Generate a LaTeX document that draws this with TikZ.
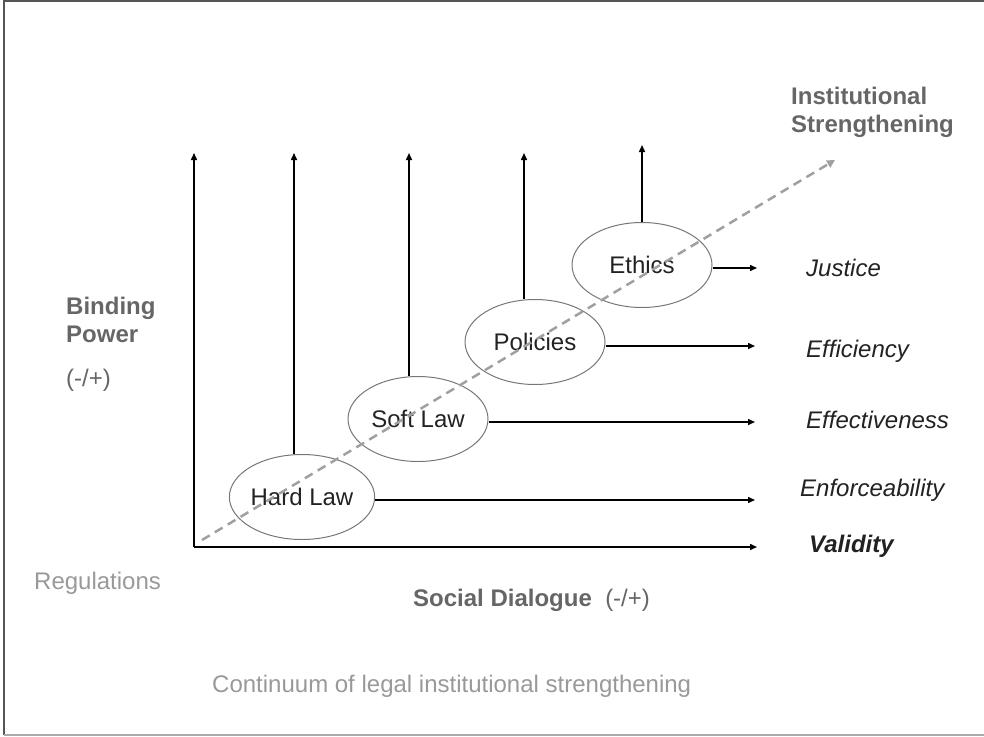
\documentclass[tikz,border=0pt]{standalone}
\usepackage{fontspec}
\setmainfont{Liberation Sans}
\usetikzlibrary{arrows.meta,shapes.geometric}
\definecolor{labgray}{HTML}{666666}
\definecolor{lightgray2}{HTML}{999999}
\definecolor{ellgray}{HTML}{777777}
\definecolor{dashgray}{HTML}{A0A0A0}
\definecolor{ink}{HTML}{222222}
\definecolor{framegray}{HTML}{555555}
\definecolor{framelight}{HTML}{AAAAAA}
\begin{document}
\begin{tikzpicture}[x=1pt,y=-1pt,
  every node/.style={inner sep=0pt, font=\fontsize{24}{29}\selectfont},
  arr/.style={draw=black, line width=1.5pt, -{Triangle[length=7pt,width=6pt]}},
  plainline/.style={draw=black, line width=1.5pt},
  oval/.style={ellipse, draw=ellgray, line width=1pt, minimum width=140pt, minimum height=85pt, text=ink},
  lab/.style={anchor=west, text=ink, font=\fontsize{24}{29}\selectfont\itshape},
  dashline/.style={draw=dashgray, line width=2.5pt, dash pattern=on 9pt off 6pt, -{Triangle[length=8pt,width=8pt]}},
  boldlab/.style={anchor=west, align=left, text=labgray, font=\fontsize{24}{28}\selectfont\bfseries},
  graylab/.style={anchor=west, text=labgray},
  lightlab/.style={anchor=west, text=lightgray2},
]
\useasboundingbox (0,0) rectangle (984,736);
% frame
\draw[line width=2pt, framegray] (984,1) -- (4,1) -- (4,735);
\draw[line width=2pt, framelight] (4,735) -- (984,735);

% axes
\coordinate (O) at (194,547);
\coordinate (xend) at (757,547);
\coordinate (ytop) at (194,153);
\draw[arr] (O) -- (ytop);
\draw[arr] (O) -- (xend);

% ellipses
\node[oval] (hard) at (302,497) {Hard Law};
\node[oval] (soft) at (418,419) {Soft Law};
\node[oval] (pol) at (535,342) {Policies};
\node[oval] (eth) at (642,265) {Ethics};

% vertical arrows
\draw[arr] ([xshift=-8pt]hard.north) -- ([xshift=-8pt]hard.north |- ytop);
\draw[arr] ([xshift=-9pt]soft.north) -- ([xshift=-9pt]soft.north |- ytop);
\draw[arr] ([xshift=-11pt]pol.north) -- ([xshift=-11pt]pol.north |- ytop);
\coordinate (ethtop) at (642,145);
\draw[arr] (eth.north) -- (eth.north |- ethtop);

% horizontal arrows
\coordinate (hend) at (755,0);
\coordinate (jend) at (757,0);
\draw[arr] ([yshift=-3pt]hard.east) -- ([yshift=-3pt]hard.east -| hend);
\draw[arr] ([yshift=-3pt]soft.east) -- ([yshift=-3pt]soft.east -| hend);
\draw[arr] ([yshift=-4pt]pol.east) -- ([yshift=-4pt]pol.east -| hend);
\draw[arr] ([yshift=-3pt]eth.east) -- ([yshift=-3pt]eth.east -| jend);

% dashed
\coordinate (ds) at (202,540);
\coordinate (de) at (835,160);
\draw[dashline] (ds) -- (de);

% right labels
\node[lab] (jus) at (806,268) {Justice};
\node[lab] (effi) at (806,351) {Efficiency};
\node[lab] (effe) at (806,420) {Effectiveness};
\node[lab] (enf) at (800,490) {Enforceability};
\node[lab, font=\fontsize{24}{29}\selectfont\bfseries\itshape] (val) at (809,546) {Validity};

% other labels
\node[boldlab] (inst) at (791,112) {Institutional\\Strengthening};
\node[boldlab] (bind) at (66,320) {Binding\\Power};
\node[graylab] (pm) at (66,380) {(-/+)};
\node[lightlab] (reg) at (34,583) {Regulations};
\node[graylab] (soc) at (413,600) {\textbf{Social Dialogue}\ \ (-/+)};
\node[lightlab] (cont) at (212,686) {Continuum of legal institutional strengthening};
\end{tikzpicture}
\end{document}
